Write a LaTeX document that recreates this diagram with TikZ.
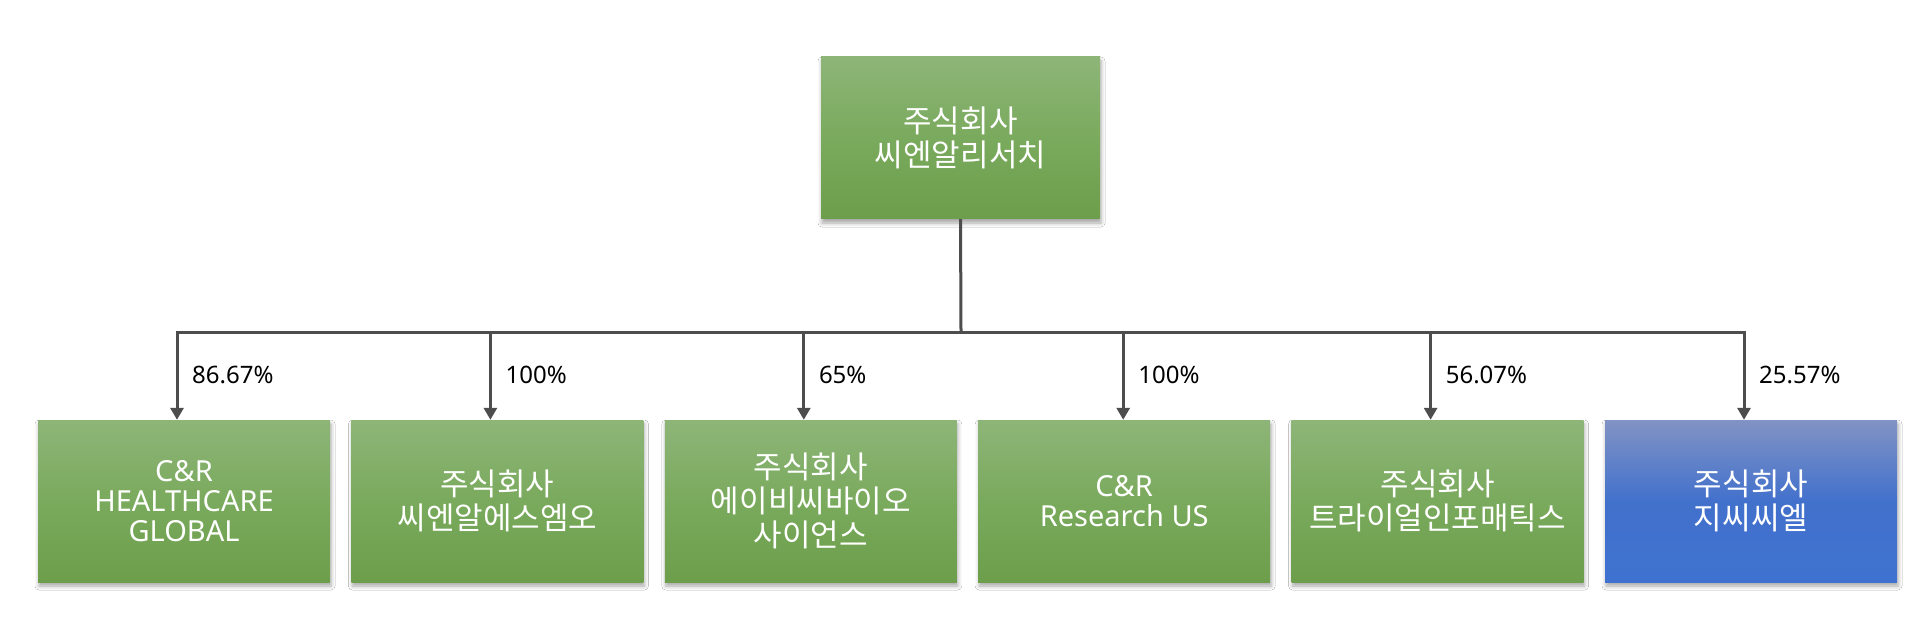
\documentclass[tikz,border=0pt]{standalone}
\usepackage{fontspec}
\setmainfont{Noto Sans}
\newfontfamily\kr{Noto Sans CJK KR}
\usetikzlibrary{arrows.meta,shadows.blur}
\definecolor{gtop}{HTML}{8DB578}
\definecolor{gmid}{HTML}{7AAA5D}
\definecolor{gbot}{HTML}{6C9E4B}
\definecolor{btop}{HTML}{8293C4}
\definecolor{bmid}{HTML}{4271CC}
\definecolor{bbot}{HTML}{3F72D0}
\definecolor{lnc}{HTML}{4D4D4D}
\tikzset{
  box/.style={rectangle, minimum width=292pt, minimum height=162pt, inner sep=0pt,
    align=center, text=white,
    blur shadow={shadow xshift=1pt, shadow yshift=-4pt, shadow blur radius=4pt, shadow opacity=35}},
  greenbox/.style={box, top color=gtop, bottom color=gbot, middle color=gmid},
  bluebox/.style={box, top color=btop, bottom color=bbot, middle color=bmid,
    shading angle=0},
  krtext/.style={font=\kr\fontsize{31}{34}\selectfont},
  entext/.style={font=\fontsize{29}{30}\selectfont},
  conn/.style={draw=lnc, line width=3pt},
  arr/.style={conn, -{Triangle[width=13pt,length=12pt]}},
  pct/.style={anchor=west, font=\fontsize{24}{26}\selectfont, text=black, inner sep=0pt}
}
\begin{document}
\begin{tikzpicture}[x=1pt,y=-1pt]
\useasboundingbox (0,0) rectangle (1926,620);
\fill[white] (0,0) rectangle (1926,620);
\node[greenbox, krtext, minimum width=279pt] (top) at (960.5,138) {주식회사\\씨엔알리서치};
\node[greenbox, entext] (b1) at (184,501) {C\&R\\HEALTHCARE\\GLOBAL};
\node[greenbox, krtext] (b2) at (497.4,501) {주식회사\\씨엔알에스엠오};
\node[greenbox, krtext] (b3) at (810.8,501) {주식회사\\에이비씨바이오\\사이언스};
\node[greenbox, entext] (b4) at (1124.2,501) {C\&R\\Research US};
\node[greenbox, krtext] (b5) at (1437.6,501) {주식회사\\트라이얼인포매틱스};
\node[box, krtext, top color=btop, bottom color=bbot, middle color=bmid] (b6) at (1751,501) {주식회사\\지씨씨엘};
\coordinate (bus) at (961,332);
\coordinate (a1) at ([xshift=-7pt]b1.north);
\coordinate (a2) at ([xshift=-7pt]b2.north);
\coordinate (a3) at ([xshift=-7pt]b3.north);
\coordinate (a4) at ([xshift=-1pt]b4.north);
\coordinate (a5) at ([xshift=-7pt]b5.north);
\coordinate (a6) at ([xshift=-7pt]b6.north);
\draw[conn] (top.south) -- (bus);
\draw[conn, line cap=rect] (a1 |- bus) -- (a6 |- bus);
\foreach \i/\p in {1/86.67\%,2/100\%,3/65\%,4/100\%,5/56.07\%,6/25.57\%}{
  \draw[arr] (a\i |- bus) -- (a\i);
  \node[pct] (p\i) at ([xshift=15pt]a\i |- 0,375) {\p};
}
\end{tikzpicture}
\end{document}
